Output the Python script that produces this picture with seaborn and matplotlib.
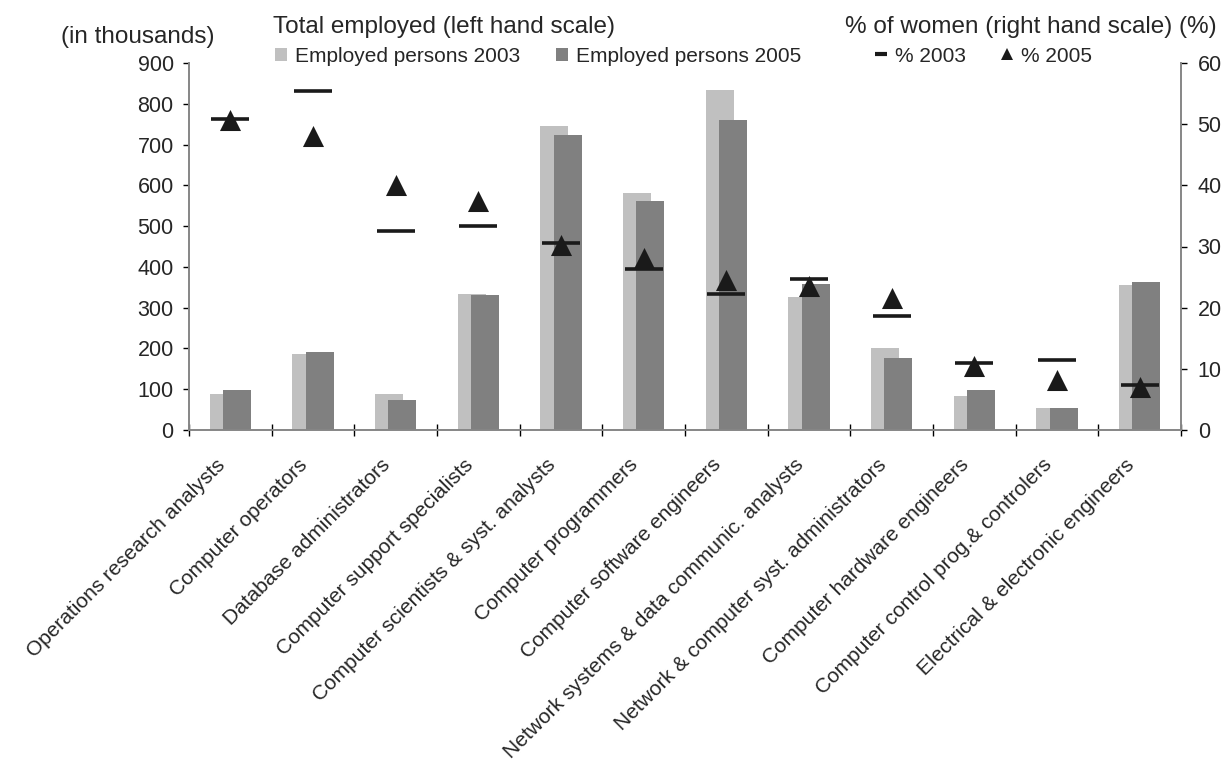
import numpy as np
import matplotlib.pyplot as plt
from matplotlib.lines import Line2D
import seaborn as sns

sns.set_theme(style="white")
plt.rcParams['font.family'] = ['Liberation Sans', 'DejaVu Sans']

occupations = ["Operations research analysts", "Computer operators",
               "Database administrators", "Computer support specialists",
               "Computer scientists & syst. analysts", "Computer programmers",
               "Computer software engineers",
               "Network systems & data communic. analysts",
               "Network & computer syst. administrators",
               "Computer hardware engineers",
               "Computer control prog.& controlers",
               "Electrical & electronic engineers"]

# employed persons, thousands
employed_2003 = [88, 186, 88, 334, 746, 582, 834, 325, 200, 83, 54, 355]
employed_2005 = [98, 191, 73, 330, 724, 562, 760, 359, 176, 98, 54, 364]

# % of women
women_2003 = [50.9, 55.4, 32.5, 33.4, 30.6, 26.4, 22.2, 24.7, 18.6, 10.9, 11.5, 7.3]
women_2005 = [50.7, 48.1, 40.0, 37.5, 30.3, 28.1, 24.6, 23.6, 21.6, 10.4, 8.1, 7.1]

light = "#c0c0c0"
dark = "#808080"
ink = "#1a1a1a"
axis_grey = "#868686"

fig = plt.figure(figsize=(12.22, 7.68), dpi=100)
ax = fig.add_axes([189 / 1222, 1 - 430 / 768, 992 / 1222, 367 / 768])

x = np.arange(len(occupations))
sns.barplot(x=x - 0.08, y=employed_2003, native_scale=True, width=0.34,
            color=light, saturation=1, linewidth=0,
            label="Employed persons 2003", ax=ax)
sns.barplot(x=x + 0.08, y=employed_2005, native_scale=True, width=0.34,
            color=dark, saturation=1, linewidth=0,
            label="Employed persons 2005", ax=ax)
bar_handles, bar_labels = ax.get_legend_handles_labels()
if ax.get_legend() is not None:
    ax.get_legend().remove()

ax.set_xlim(-0.5, len(occupations) - 0.5)
ax.set_ylim(0, 900)
ax.set_yticks(range(0, 901, 100))
ax.set_xticks(np.arange(len(occupations) + 1) - 0.5)
ax.set_xticklabels([])
# labels hang a little left of the category centre, like the Excel original
ax.set_xticks(x - 0.1, minor=True)
ax.set_xticklabels(occupations, minor=True, rotation=45, ha="right",
                   va="center", rotation_mode="anchor", fontsize=15)
ax.tick_params(axis="x", which="major", direction="inout", length=8.5,
               width=1, color="black", bottom=True)
ax.tick_params(axis="x", which="minor", length=0, pad=23, bottom=True)
ax.tick_params(axis="y", direction="out", length=4, width=1, color="black",
               pad=7, labelsize=15.5, left=True)
ax.set_xlabel("")
ax.set_ylabel("")
for side in ["top", "right"]:
    ax.spines[side].set_visible(False)
for side in ["left", "bottom"]:
    ax.spines[side].set_color(axis_grey)
    ax.spines[side].set_linewidth(1.4)

ax2 = ax.twinx()
sns.scatterplot(x=x, y=women_2003, marker="_", s=720, color=ink,
                linewidth=2.6, ax=ax2)
sns.scatterplot(x=x, y=women_2005, marker="^", s=230, color=ink,
                linewidth=0, ax=ax2)
ax2.set_ylim(0, 60)
ax2.set_yticks(range(0, 61, 10))
ax2.tick_params(axis="y", direction="out", length=4, width=1, color="black",
                pad=8, labelsize=15.5, right=True)
for side in ["top", "left", "bottom"]:
    ax2.spines[side].set_visible(False)
ax2.spines["right"].set_color(axis_grey)
ax2.spines["right"].set_linewidth(1.4)
ax2.set_ylabel("")

# titles
fig.text(61 / 1222, 1 - 43 / 768, "(in thousands)", fontsize=17.5,
         va="baseline", ha="left")
fig.text(273 / 1222, 1 - 33 / 768, "Total employed (left hand scale)",
         fontsize=17.5, va="baseline", ha="left")
fig.text(845 / 1222, 1 - 33 / 768, "% of women (right hand scale) (%)",
         fontsize=17.5, va="baseline", ha="left")

# legends
fig.legend(bar_handles, bar_labels, loc="center left",
           bbox_to_anchor=(275 / 1222, 1 - 56 / 768), ncol=2,
           frameon=False, fontsize=15, handlelength=0.58,
           handleheight=0.58, handletextpad=0.38, columnspacing=1.7,
           borderpad=0, borderaxespad=0)

marker_handles = [
    Line2D([], [], linestyle="none", marker="_", markersize=9,
           markeredgewidth=3, color=ink),
    Line2D([], [], linestyle="none", marker="^", markersize=8,
           markeredgewidth=0, color=ink),
]
fig.legend(marker_handles, ["% 2003", "% 2005"], loc="center left",
           bbox_to_anchor=(871 / 1222, 1 - 56 / 768), ncol=2,
           frameon=False, fontsize=15, handlelength=1.0,
           handletextpad=0.15, columnspacing=1.47,
           borderpad=0, borderaxespad=0)

fig.savefig("out.png", dpi=100)
